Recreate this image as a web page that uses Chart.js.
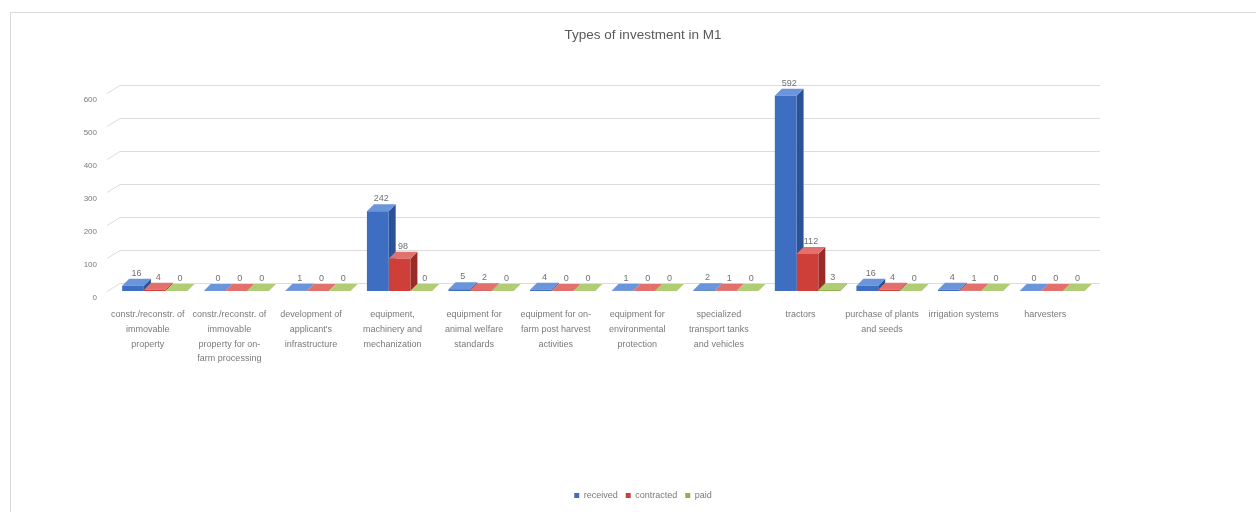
<!DOCTYPE html>
<html>
<head>
<meta charset="utf-8">
<title>Types of investment in M1</title>
<script src="https://cdn.jsdelivr.net/npm/chart.js@4.4.1/dist/chart.umd.min.js"></script>
<style>
  html, body { margin: 0; padding: 0; background: #fff; }
  #wrap { position: relative; width: 1256px; height: 512px; overflow: hidden; }
  #frame { position: absolute; left: 10px; top: 12px; width: 1300px; height: 600px;
           border-top: 1px solid #d9d9d9; border-left: 1px solid #d9d9d9; pointer-events: none; }
  canvas { position: absolute; left: 0; top: 0; }
</style>
</head>
<body>
<div id="wrap">
  <canvas id="myChart" width="1256" height="512"></canvas>
  <div id="frame"></div>
</div>
<script>
const categories = [
  ['constr./reconstr. of', 'immovable', 'property'],
  ['constr./reconstr. of', 'immovable', 'property for on-', 'farm processing'],
  ['development of', "applicant's", 'infrastructure'],
  ['equipment,', 'machinery and', 'mechanization'],
  ['equipment for', 'animal welfare', 'standards'],
  ['equipment for on-', 'farm post harvest', 'activities'],
  ['equipment for', 'environmental', 'protection'],
  ['specialized', 'transport tanks', 'and vehicles'],
  ['tractors'],
  ['purchase of plants', 'and seeds'],
  ['irrigation systems'],
  ['harvesters']
];
const received   = [16, 0, 1, 242, 5, 4, 1, 2, 592, 16, 4, 0];
const contracted = [4, 0, 0, 98, 2, 0, 0, 1, 112, 4, 1, 0];
const paid       = [0, 0, 0, 0, 0, 0, 0, 0, 3, 0, 0, 0];
const yTicks = [0, 100, 200, 300, 400, 500, 600];

const FONT = "'Liberation Sans Narrow', 'Liberation Sans', Arial, sans-serif";
const DEPTH = 7;

// front, top, side shades for each series
const shades = [
  { front: '#3d6ec2', top: '#6b95da', side: '#2a5296' },
  { front: '#cf3f3a', top: '#e2706c', side: '#9a2c28' },
  { front: '#8fb24b', top: '#b0cc74', side: '#6a8834' }
];

// back wall gridlines + fake 3D column faces, behind the bar fronts
const columns3d = {
  id: 'columns3d',
  beforeDatasetsDraw(chart) {
    const ctx = chart.ctx;
    const y = chart.scales.y;
    const area = chart.chartArea;
    ctx.save();
    ctx.strokeStyle = '#dcdcdc';
    ctx.lineWidth = 1;
    yTicks.forEach(v => {
      const py = Math.round(y.getPixelForValue(v)) + 0.5;
      ctx.beginPath();
      ctx.moveTo(area.left - 7, py);
      ctx.lineTo(area.left + 6, py - 8);
      ctx.lineTo(area.right + 7, py - 8);
      ctx.stroke();
    });

    chart.data.datasets.forEach((ds, di) => {
      const meta = chart.getDatasetMeta(di);
      const c = shades[di];
      meta.data.forEach(bar => {
        const l = bar.x - bar.width / 2, r = bar.x + bar.width / 2;
        const t = bar.y, b = bar.base;
        ctx.fillStyle = c.side;
        ctx.beginPath();
        ctx.moveTo(r, t); ctx.lineTo(r + DEPTH, t - DEPTH);
        ctx.lineTo(r + DEPTH, b - DEPTH); ctx.lineTo(r, b);
        ctx.closePath(); ctx.fill();
        ctx.fillStyle = c.top;
        ctx.beginPath();
        ctx.moveTo(l, t); ctx.lineTo(r, t);
        ctx.lineTo(r + DEPTH, t - DEPTH); ctx.lineTo(l + DEPTH, t - DEPTH);
        ctx.closePath(); ctx.fill();
      });
    });
    ctx.restore();
  },
  afterDatasetsDraw(chart) {
    const ctx = chart.ctx;
    ctx.save();
    ctx.font = '9px ' + FONT;
    ctx.fillStyle = '#707070';
    ctx.textAlign = 'center';
    ctx.textBaseline = 'bottom';
    chart.data.datasets.forEach((ds, di) => {
      const meta = chart.getDatasetMeta(di);
      meta.data.forEach((bar, i) => {
        ctx.fillText(ds.data[i], bar.x + DEPTH / 2, bar.y - DEPTH - 1);
      });
    });
    ctx.restore();
  }
};

const ctx = document.getElementById('myChart').getContext('2d');
new Chart(ctx, {
  type: 'bar',
  data: {
    labels: categories,
    datasets: [
      { label: 'received', data: received, backgroundColor: shades[0].front },
      { label: 'contracted', data: contracted, backgroundColor: shades[1].front },
      { label: 'paid', data: paid, backgroundColor: shades[2].front }
    ]
  },
  options: {
    responsive: false,
    animation: false,
    events: [],
    layout: { padding: { left: 30, right: 0, top: 0, bottom: 2 } },
    datasets: { bar: { categoryPercentage: 0.8, barPercentage: 1.0 } },
    scales: {
      x: {
        grid: { display: false },
        border: { display: false },
        ticks: {
          color: '#7a7a7a',
          font: { family: FONT, size: 9, lineHeight: 1.65 },
          maxRotation: 0,
          autoSkip: false,
          padding: 8,
          labelOffset: -7
        },
        afterFit(scale) { scale.height = 192; }
      },
      y: {
        min: 0,
        max: 600,
        afterBuildTicks(scale) { scale.ticks = yTicks.map(v => ({ value: v })); },
        afterFit(scale) { scale.width = 84; },
        grid: { display: false },
        border: { display: false },
        ticks: {
          color: '#7a7a7a',
          font: { family: FONT, size: 8 },
          padding: 9,
          labelOffset: 7
        }
      },
      // empty right-hand spacer so the plot ends where the reference's does
      spacer: {
        position: 'right',
        display: true,
        min: 0,
        max: 600,
        grid: { display: false },
        border: { display: false },
        ticks: { display: false },
        afterFit(scale) { scale.width = 163; }
      }
    },
    plugins: {
      title: {
        display: true,
        text: 'Types of investment in M1',
        color: '#595959',
        font: { family: FONT, size: 13.5, weight: 'normal' },
        padding: { top: 27, bottom: 50 }
      },
      legend: {
        position: 'bottom',
        labels: {
          color: '#7a7a7a',
          font: { family: FONT, size: 9 },
          usePointStyle: true,
          pointStyle: 'rect',
          boxWidth: 5,
          boxHeight: 5,
          padding: 8
        }
      },
      tooltip: { enabled: false }
    }
  },
  plugins: [columns3d]
});
</script>
</body>
</html>
